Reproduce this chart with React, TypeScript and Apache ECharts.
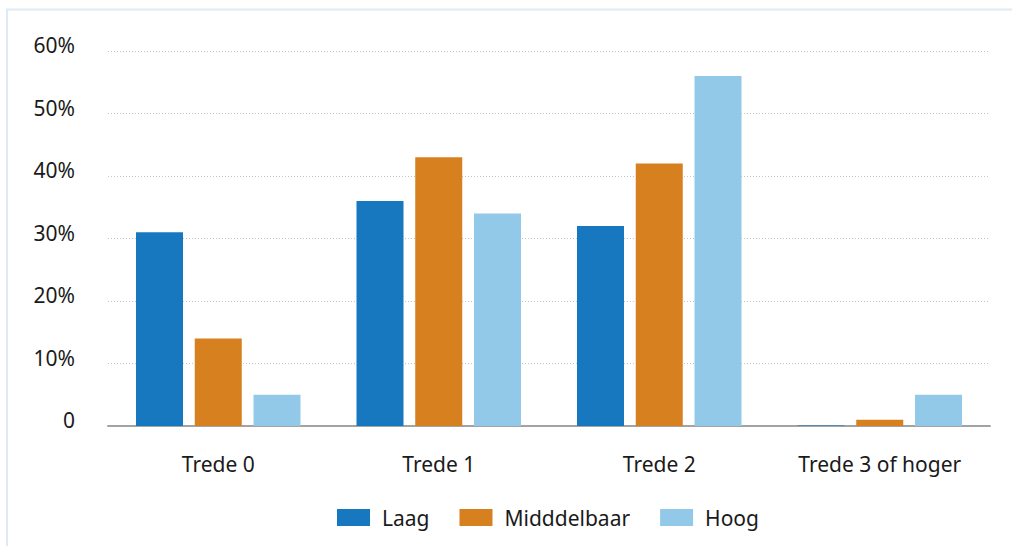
import React, { useEffect, useRef } from "react";
import * as echarts from "echarts";

const categories = ["Trede 0", "Trede 1", "Trede 2", "Trede 3 of hoger"];
const laag = [31, 36, 32, 0.1];
const midddelbaar = [14, 43, 42, 1];
const hoog = [5, 34, 56, 5];
const seriesNames = ["Laag", "Midddelbaar", "Hoog"];
const colors = ["#1778c0", "#d7801f", "#93c9e8"];

const FONT = "'Noto Sans', sans-serif";

export default function App() {
  const ref = useRef<HTMLDivElement>(null);
  useEffect(() => {
    const chart = echarts.init(ref.current!, null, { renderer: "svg" });
    const values = [laag, midddelbaar, hoog];
    chart.setOption({
      animation: false,
      backgroundColor: "#ffffff",
      textStyle: { fontFamily: FONT },
      graphic: [
        {
          type: "rect",
          shape: { x: 7, y: 9.5, width: 1100, height: 600 },
          style: { fill: "none", stroke: "#dcebf7", lineWidth: 2 },
          silent: true,
        },
      ],
      grid: { left: 108, right: 22, top: 51, bottom: 120, containLabel: false },
      legend: {
        left: 332,
        top: 502,
        itemWidth: 33,
        itemHeight: 17,
        itemGap: 30,
        icon: "rect",
        data: seriesNames,
        textStyle: { fontFamily: FONT, fontSize: 21, color: "#1a1a1a", padding: [0, 0, 0, 7] },
      },
      xAxis: {
        type: "category",
        data: categories,
        axisTick: { show: false },
        axisLine: { lineStyle: { color: "#a3a3a3", width: 2 } },
        axisLabel: { fontFamily: FONT, fontSize: 21, color: "#1a1a1a", margin: 27 },
      },
      yAxis: {
        type: "value",
        min: 0,
        max: 60,
        interval: 10,
        axisLine: { show: false },
        axisTick: { show: false },
        splitLine: { lineStyle: { color: "#c4c4c4", width: 1, type: [1, 2] } },
        axisLabel: {
          fontFamily: FONT,
          fontSize: 21,
          color: "#1a1a1a",
          margin: 33,
          verticalAlign: "bottom",
          lineHeight: 12,
          formatter: (v: number) => (v === 0 ? "0" : v + "%"),
        },
      },
      series: values.map((d, i) => ({
        name: seriesNames[i],
        type: "bar",
        data: d,
        barWidth: 47,
        barGap: "25%",
        itemStyle: { color: colors[i] },
      })),
    });
    return () => chart.dispose();
  }, []);
  return (
    <div
      ref={ref}
      style={{ position: "absolute", left: 0, top: 0, width: 1012, height: 546 }}
    />
  );
}
